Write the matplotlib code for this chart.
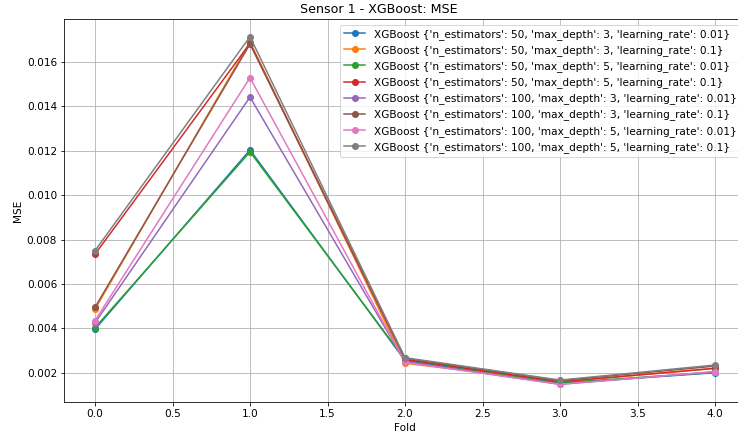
import matplotlib
matplotlib.use("Agg")
import matplotlib.pyplot as plt

folds = [0, 1, 2, 3, 4]

labels = [
    "XGBoost {'n_estimators': 50, 'max_depth': 3, 'learning_rate': 0.01}",
    "XGBoost {'n_estimators': 50, 'max_depth': 3, 'learning_rate': 0.1}",
    "XGBoost {'n_estimators': 50, 'max_depth': 5, 'learning_rate': 0.01}",
    "XGBoost {'n_estimators': 50, 'max_depth': 5, 'learning_rate': 0.1}",
    "XGBoost {'n_estimators': 100, 'max_depth': 3, 'learning_rate': 0.01}",
    "XGBoost {'n_estimators': 100, 'max_depth': 3, 'learning_rate': 0.1}",
    "XGBoost {'n_estimators': 100, 'max_depth': 5, 'learning_rate': 0.01}",
    "XGBoost {'n_estimators': 100, 'max_depth': 5, 'learning_rate': 0.1}",
]

mse_50_3_001 = [0.00396, 0.01204, 0.00255, 0.00152, 0.00200]
mse_50_3_01 = [0.00486, 0.01691, 0.00243, 0.00158, 0.00220]
mse_50_5_001 = [0.00403, 0.01195, 0.00260, 0.00155, 0.00202]
mse_50_5_01 = [0.00734, 0.01684, 0.00260, 0.00160, 0.00220]
mse_100_3_001 = [0.00425, 0.01442, 0.00250, 0.00148, 0.00205]
mse_100_3_01 = [0.00495, 0.01681, 0.00265, 0.00165, 0.00230]
mse_100_5_001 = [0.00435, 0.01529, 0.00247, 0.00148, 0.00205]
mse_100_5_01 = [0.00750, 0.01714, 0.00268, 0.00167, 0.00235]

series = [
    mse_50_3_001, mse_50_3_01, mse_50_5_001, mse_50_5_01,
    mse_100_3_001, mse_100_3_01, mse_100_5_001, mse_100_5_01,
]


def main() -> None:
    plt.rcParams["font.size"] = 10.5

    fig = plt.figure(figsize=(738 / 72, 436 / 72), dpi=72)
    ax = fig.add_axes([64 / 738, 34.3 / 436, 682 / 738, 382.4 / 436])

    for values, label in zip(series, labels):
        ax.plot(folds, values, marker="o", label=label)

    ax.set_xlim(-0.2, 4.2)
    ax.set_title("Sensor 1 - XGBoost: MSE", fontsize=12.6, x=0.461)
    ax.set_xlabel("Fold")
    ax.set_ylabel("MSE")
    ax.grid(True)
    ax.legend(loc="upper right", labelspacing=0.5)

    fig.savefig("out.png", dpi=72)


if __name__ == "__main__":
    main()
